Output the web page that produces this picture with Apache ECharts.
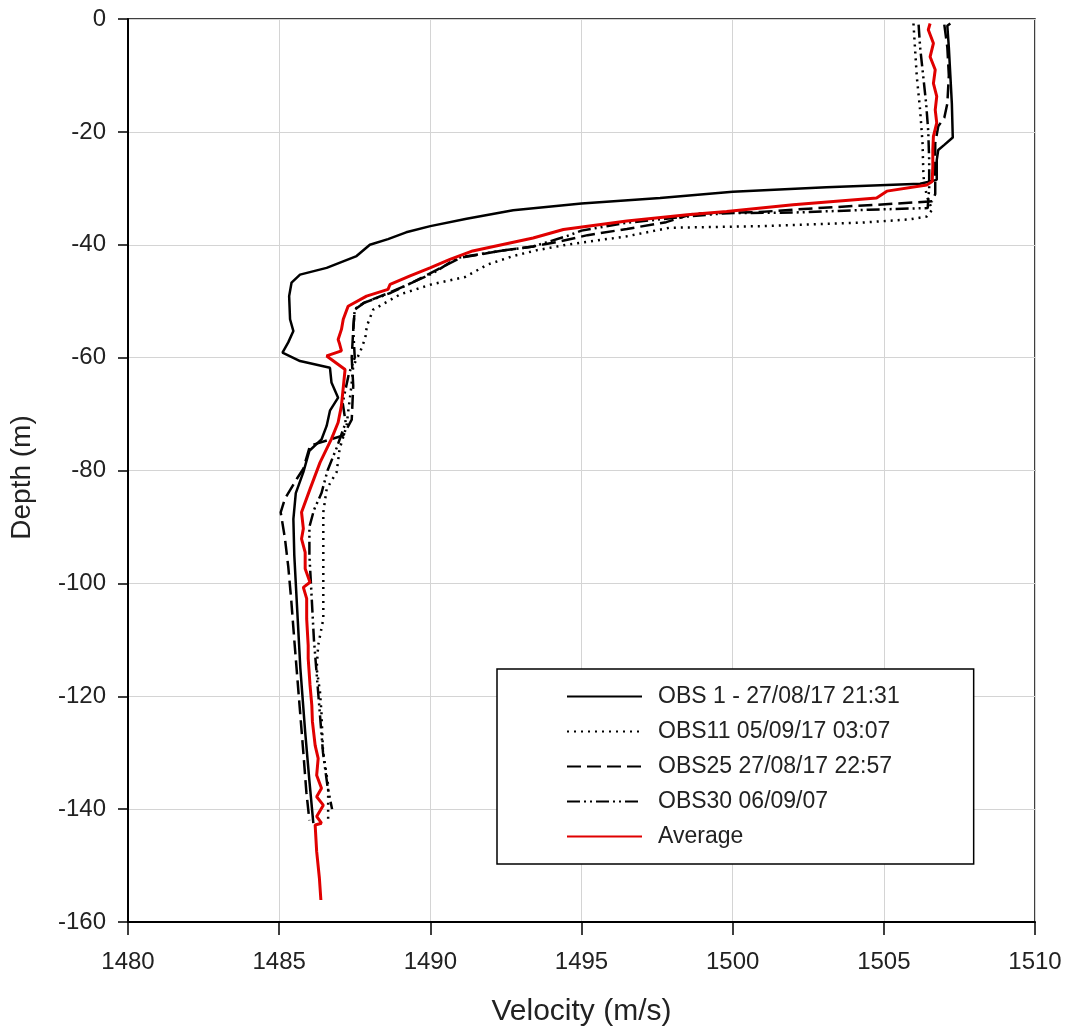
<!DOCTYPE html>
<html>
<head>
<meta charset="utf-8">
<script src="https://cdn.jsdelivr.net/npm/echarts@6/dist/echarts.min.js"></script>
<style>
html,body{margin:0;padding:0;background:#fff;}
#chart{width:1070px;height:1032px;}
</style>
</head>
<body>
<div id="chart"></div>
<script>
// Tick values
var velocityTicks = [1480, 1485, 1490, 1495, 1500, 1505, 1510];
var depthTicks = [0, -20, -40, -60, -80, -100, -120, -140, -160];

// Series names
var seriesNames = ['OBS 1 - 27/08/17 21:31', 'OBS11 05/09/17 03:07', 'OBS25 27/08/17 22:57', 'OBS30 06/09/07', 'Average'];

// [velocity (m/s), depth (m)]
var obs1 = [[1507.2,-0.8],[1507.1,-1.2],[1507.15,-5],[1507.2,-10],[1507.25,-15],[1507.28,-21],[1507.0,-22.3],[1506.8,-23.2],[1506.75,-25],[1506.75,-28.5],[1506.2,-29.2],[1503.1,-29.8],[1500.0,-30.6],[1497.6,-31.7],[1495.0,-32.7],[1492.74,-33.9],[1491.2,-35.4],[1490.0,-36.7],[1489.2,-37.8],[1488.6,-39.0],[1488.0,-40.0],[1487.56,-42.0],[1486.57,-44.1],[1485.69,-45.3],[1485.41,-46.7],[1485.33,-49.1],[1485.36,-53.2],[1485.47,-55.3],[1485.3,-57.3],[1485.11,-59.1],[1485.69,-60.6],[1486.68,-61.8],[1486.73,-64.4],[1486.95,-67.1],[1486.68,-69.4],[1486.57,-72.1],[1486.4,-74.5],[1486.0,-76.5],[1485.8,-80.3],[1485.55,-84],[1485.47,-88.6],[1485.5,-95],[1485.6,-105],[1485.7,-115],[1485.86,-126.3],[1486.0,-135],[1486.13,-142.5]];

var obs11 = [[1505.98,-0.8],[1506.09,-10.2],[1506.2,-16.1],[1506.28,-22],[1506.31,-27.9],[1506.42,-31.4],[1506.6,-33.8],[1506.42,-35.0],[1505.87,-35.5],[1504.2,-36.1],[1500.9,-36.7],[1497.9,-37.0],[1496.5,-38.5],[1494.5,-40.0],[1493.5,-41.0],[1492.74,-42.0],[1491.9,-43.5],[1491.15,-45.7],[1490.05,-47.0],[1489.0,-48.8],[1488.11,-51.5],[1487.9,-54.4],[1487.85,-56.5],[1487.67,-59.1],[1487.45,-61.5],[1487.39,-65],[1487.28,-69.7],[1487.23,-72.1],[1487.0,-76.2],[1486.9,-80.3],[1486.57,-83.3],[1486.46,-87.4],[1486.46,-92],[1486.46,-100.4],[1486.46,-106.3],[1486.29,-111],[1486.24,-115.1],[1486.35,-119.2],[1486.4,-123],[1486.45,-129.8],[1486.62,-135.7],[1486.62,-142.2]];

var obs25 = [[1507.0,-1],[1507.1,-5],[1507.15,-10],[1507.1,-15],[1507.0,-17.5],[1506.8,-19],[1506.7,-22],[1506.7,-27],[1506.7,-31],[1506.6,-32.3],[1504.8,-32.9],[1502.5,-33.6],[1500.9,-34.2],[1498.7,-34.5],[1497.8,-36.0],[1496.5,-37.2],[1495.2,-38.3],[1494.3,-39.4],[1493.4,-40.3],[1492.3,-41.1],[1491.0,-42.3],[1490.2,-44.5],[1489.4,-46.7],[1488.6,-48.6],[1487.8,-50.3],[1487.5,-51.5],[1487.45,-55],[1487.4,-60],[1487.45,-65],[1487.4,-71],[1487.12,-73.8],[1486.02,-75.6],[1485.8,-79.7],[1485.58,-81.5],[1485.19,-85.0],[1485.05,-87.4],[1485.19,-92],[1485.3,-97],[1485.4,-103],[1485.5,-110],[1485.65,-120],[1485.8,-130],[1485.9,-137],[1486.0,-142]];

var obs30 = [[1506.15,-1],[1506.2,-5],[1506.3,-10],[1506.4,-15],[1506.47,-20],[1506.5,-25],[1506.5,-30],[1506.45,-33.5],[1504.5,-33.8],[1502.0,-34.3],[1499.8,-34.4],[1498.5,-35.0],[1497.6,-35.5],[1496.5,-36.1],[1495.0,-37.5],[1494.5,-38.5],[1493.4,-40.3],[1492.3,-41.1],[1490.9,-42.3],[1490.1,-45],[1489.4,-46.7],[1488.7,-48.5],[1487.8,-50.3],[1487.5,-51.4],[1487.45,-55],[1487.5,-60],[1487.3,-63],[1487.1,-68],[1487.2,-71.5],[1486.9,-76],[1486.6,-80],[1486.4,-84],[1486.15,-87],[1486.0,-90],[1486.0,-95],[1486.05,-100],[1486.15,-110],[1486.3,-120],[1486.45,-130],[1486.6,-136],[1486.75,-140]];

var average = [[1506.53,-0.8],[1506.47,-1.9],[1506.64,-4.3],[1506.53,-6.7],[1506.7,-9.0],[1506.64,-11.4],[1506.75,-13.7],[1506.7,-16.1],[1506.75,-18.4],[1506.64,-20.8],[1506.62,-23.2],[1506.62,-26.1],[1506.6,-28.8],[1506.42,-29.4],[1505.1,-30.5],[1504.76,-31.7],[1502.0,-32.9],[1499.8,-34.1],[1498.5,-34.7],[1496.5,-35.8],[1494.4,-37.3],[1493.4,-38.8],[1491.4,-41.1],[1490.65,-42.6],[1489.99,-44.1],[1489.33,-45.5],[1488.67,-47.0],[1488.6,-47.9],[1487.89,-49.1],[1487.28,-50.9],[1487.12,-53.2],[1487.06,-55.0],[1486.95,-56.8],[1487.0,-57.6],[1487.06,-58.8],[1486.57,-59.7],[1487.18,-62.1],[1487.06,-68.5],[1486.95,-71.5],[1486.73,-74.4],[1486.35,-78.6],[1486.02,-83.3],[1485.74,-87.4],[1485.8,-90.3],[1485.74,-92.1],[1485.86,-94.5],[1485.86,-97.4],[1486.02,-99.8],[1485.8,-100.7],[1485.91,-102.7],[1485.91,-106.3],[1485.96,-111.0],[1485.96,-113.3],[1486.02,-118.0],[1486.08,-121.6],[1486.1,-124.5],[1486.19,-128.7],[1486.29,-131.0],[1486.24,-134.0],[1486.4,-136.3],[1486.24,-137.8],[1486.46,-139.3],[1486.24,-141.3],[1486.4,-142.5],[1486.19,-142.8],[1486.24,-147.5],[1486.33,-152.2],[1486.38,-156.1]];

var chart = echarts.init(document.getElementById('chart'), null, {renderer: 'canvas'});
var FONT = 'Liberation Sans, Arial, sans-serif';

function mkLine(name, data, color, width, type) {
  return {
    name: name,
    type: 'line',
    data: data,
    showSymbol: false,
    symbol: 'none',
    smooth: false,
    lineStyle: {color: color, width: width, type: type},
    itemStyle: {color: color},
    emphasis: {disabled: true}
  };
}

chart.setOption({
  animation: false,
  backgroundColor: '#ffffff',
  grid: {left: 128, right: 35, top: 19, bottom: 108, show: true, borderColor: '#000', borderWidth: 1.5, backgroundColor: 'transparent'},
  xAxis: {
    type: 'value', min: velocityTicks[0], max: velocityTicks[velocityTicks.length - 1], interval: 5,
    name: 'Velocity (m/s)', nameLocation: 'middle', nameGap: 75,
    nameTextStyle: {fontFamily: FONT, fontSize: 30, color: '#222'},
    axisLine: {show: true, onZero: false, lineStyle: {color: '#000', width: 2}},
    axisTick: {show: true, inside: false, length: 13, lineStyle: {color: '#000', width: 1.5}},
    axisLabel: {fontFamily: FONT, fontSize: 24, color: '#222', margin: 28, formatter: function (v) { return String(v); }},
    splitLine: {show: true, lineStyle: {color: '#d4d4d4', width: 1}}
  },
  yAxis: {
    type: 'value', min: depthTicks[depthTicks.length - 1], max: depthTicks[0], interval: 20,
    name: 'Depth (m)', nameLocation: 'middle', nameGap: 92, nameRotate: 90,
    nameTextStyle: {fontFamily: FONT, fontSize: 28, color: '#222', padding: [0, 14, 0, 0]},
    axisLine: {show: true, onZero: false, lineStyle: {color: '#000', width: 2}},
    axisTick: {show: true, inside: false, length: 10, lineStyle: {color: '#000', width: 1.5}},
    axisLabel: {fontFamily: FONT, fontSize: 24, color: '#222', margin: 22, formatter: function (v) { return String(v); }},
    splitLine: {show: true, lineStyle: {color: '#d4d4d4', width: 1}}
  },
  legend: {
    show: true,
    orient: 'vertical',
    left: 497, top: 669,
    padding: [16, 74, 16, 69],
    itemWidth: 75, itemHeight: 14, itemGap: 12,
    backgroundColor: '#fff',
    borderColor: '#000', borderWidth: 1.5,
    selectedMode: false,
    itemStyle: {color: 'rgba(0,0,0,0)', borderWidth: 0, opacity: 0},
    textStyle: {fontFamily: FONT, fontSize: 23, lineHeight: 22, color: '#222', padding: [0, 0, 0, 11]},
    data: seriesNames
  },
  series: [
    mkLine(seriesNames[0], obs1, '#000', 2.5, 'solid'),
    mkLine(seriesNames[1], obs11, '#000', 2.5, [2, 5]),
    mkLine(seriesNames[2], obs25, '#000', 2.5, [14, 6]),
    mkLine(seriesNames[3], obs30, '#000', 2.5, [13, 4, 2, 4, 2, 4]),
    mkLine(seriesNames[4], average, '#e00000', 3, 'solid')
  ]
});
</script>
</body>
</html>
